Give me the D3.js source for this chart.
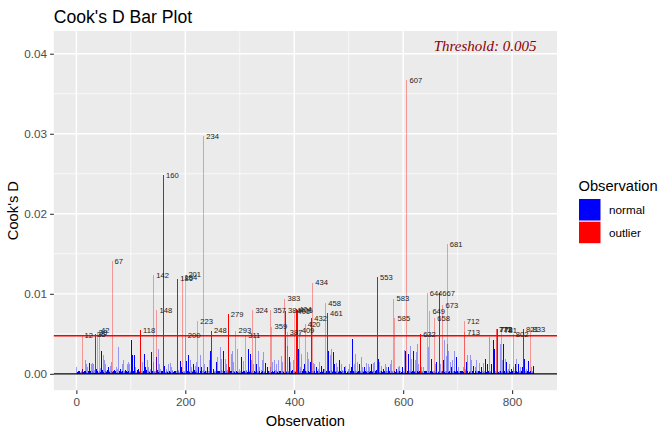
<!doctype html>
<html lang="en">
<head>
<meta charset="utf-8">
<title>Cook's D Bar Plot</title>
<script src="https://d3js.org/d3.v7.min.js"></script>
<style>
  body { margin: 0; background: #ffffff; }
  svg { display: block; font-family: "Liberation Sans", Arial, sans-serif; }
</style>
</head>
<body>
<svg id="chart" width="672" height="432"></svg>
<script>
// Cook's D of every observation, in units of 0.0001.
// Outlier positions hold 0 here, their values are in outlierD below.
var cooksD = [
  8,2,1,3,1,4,2,1,3,2,6,0,2,1,4,17,3,12,2,1,
  8,3,1,13,2,4,12,1,14,3,2,12,1,5,0,2,6,0,3,2,
  1,0,4,2,7,29,3,5,23,2,1,17,4,12,2,3,5,1,8,3,
  2,10,1,4,15,2,0,3,1,5,2,3,8,1,2,6,1,34,3,2,
  6,3,2,12,4,1,17,3,2,5,1,4,12,2,15,3,1,12,4,2,
  42,3,23,1,4,2,23,3,8,1,2,5,1,6,3,2,4,0,1,3,
  2,15,4,1,25,3,9,2,5,17,1,3,8,2,4,1,6,27,2,3,
  15,0,2,4,1,3,21,0,5,31,2,12,3,6,1,4,2,3,1,0,
  3,10,2,1,4,6,2,3,1,12,4,13,2,1,8,3,5,2,1,4,
  2,3,4,1,2,0,3,5,1,2,16,3,8,0,2,4,1,3,2,0,
  0,16,2,4,1,23,3,2,17,1,4,8,2,3,12,1,5,10,2,3,
  15,2,0,9,3,1,23,4,2,8,1,3,5,0,2,12,3,4,1,2,
  8,3,1,17,4,29,2,0,3,1,5,6,2,4,1,3,15,2,4,21,
  3,1,4,33,2,5,19,1,3,29,2,4,19,1,3,12,2,5,0,3,
  8,2,4,25,3,29,1,4,15,2,3,1,0,4,31,2,3,1,6,2,
  4,1,21,3,2,16,4,1,3,2,0,5,4,2,1,31,3,2,4,25,
  2,17,3,0,1,12,4,46,2,3,12,1,4,29,2,3,8,1,5,2,
  17,3,1,27,4,2,13,3,1,5,8,2,4,1,3,8,0,2,0,4,
  15,2,17,3,5,1,4,12,2,3,1,17,4,2,3,22,1,4,15,2,
  3,1,0,0,3,2,0,35,3,2,21,4,1,15,3,2,5,17,1,3,
  0,2,4,0,1,0,3,31,0,2,8,4,1,25,3,2,6,1,12,0,
  3,2,4,27,1,3,19,2,4,15,1,0,3,0,2,13,4,12,1,3,
  8,2,4,6,1,3,15,2,1,10,4,2,3,6,1,6,2,0,3,1,
  0,4,29,2,3,23,1,5,31,2,4,27,1,12,3,2,13,4,1,8,
  2,3,17,1,4,12,2,3,5,1,4,8,2,3,10,1,4,2,6,3,
  1,12,4,2,8,3,44,1,4,12,2,3,25,1,4,2,15,3,1,12,
  2,4,21,1,3,8,2,4,8,1,3,13,2,4,1,12,3,2,8,4,
  1,12,3,2,13,4,1,15,3,2,5,1,0,3,19,2,15,4,1,3,
  10,2,4,6,1,3,12,2,4,8,1,3,8,2,4,12,1,3,17,2,
  4,1,0,3,0,2,4,6,1,3,8,2,4,10,1,3,2,4,8,1,
  3,30,2,29,4,1,0,3,2,25,4,1,35,3,2,19,4,1,29,3,
  2,17,4,1,27,3,37,2,12,4,1,0,3,8,2,4,8,1,3,2,
  4,2,3,0,1,33,4,2,0,3,1,19,4,2,3,1,4,0,2,12,
  15,3,1,4,2,3,0,1,12,4,2,3,0,17,42,2,4,1,22,3,
  0,37,2,29,4,15,1,3,8,2,17,4,1,3,29,2,4,21,1,3,
  8,2,4,1,3,2,4,1,3,8,2,0,0,6,3,15,2,4,23,1,
  3,2,24,4,1,17,3,2,10,4,1,8,3,2,17,4,1,3,2,4,
  13,2,3,8,1,4,2,13,3,1,19,4,2,3,12,1,4,2,46,3,
  2,12,4,1,3,42,2,31,4,1,0,0,0,3,2,4,1,37,3,2,
  0,17,3,37,2,4,19,1,3,15,2,4,6,1,3,12,2,4,6,1,
  3,0,8,4,1,12,4,3,19,2,4,12,1,3,2,8,4,1,8,0,
  0,4,19,1,3,6,2,4,1,16,3,2,0,4,8,1,3,2,10,4
];

// labelled observations above the threshold
var outlierObs = [12, 35, 38, 42, 67, 118, 142, 148, 160, 186, 194, 200, 201, 223, 234, 248,
  279, 293, 311, 324, 357, 359, 383, 384, 387, 401, 404, 406, 409, 420, 432, 434, 458, 461,
  553, 583, 585, 607, 632, 644, 649, 658, 667, 673, 681, 712, 713, 771, 772, 773, 781,
  802, 821, 833];
var outlierD = [0.0048, 0.0050, 0.0052, 0.0054, 0.0141, 0.0055, 0.0123, 0.0080, 0.0248, 0.0119, 0.0121, 0.0048, 0.0124, 0.0066, 0.0297, 0.0054,
  0.0075, 0.0054, 0.0048, 0.0080, 0.0080, 0.0059, 0.0094, 0.0079, 0.0052, 0.0078, 0.0081, 0.0080, 0.0055, 0.0062, 0.0070, 0.0114, 0.0088, 0.0076,
  0.0121, 0.0094, 0.0070, 0.0367, 0.0050, 0.0101, 0.0078, 0.0070, 0.0101, 0.0086, 0.0162, 0.0066, 0.0052, 0.0056, 0.0056, 0.0056, 0.0055,
  0.0050, 0.0056, 0.0056];

var legendLabels = ["normal", "outlier"];
var legendColors = ["blue", "red"];
var xTicks = [0, 200, 400, 600, 800];
var yTicks = [0, 0.01, 0.02, 0.03, 0.04];
var yMax = 0.0408;

var n = cooksD.length;
var threshold = 4 / n;

var data = cooksD.map(function(v, i) { return { obs: i + 1, cd: v / 10000, txt: null }; });
outlierObs.forEach(function(o, i) {
  data[o - 1].cd = outlierD[i];
  data[o - 1].txt = String(o);
});
data.forEach(function(d) { d.color = d.cd > threshold ? "outlier" : "normal"; });

var panel = { left: 53.8, right: 557, top: 31, bottom: 390.2 };

// ggplot style 5% expansion
var xLo = 0.55, xHi = n + 0.45, xPad = (xHi - xLo) * 0.05;
var x = d3.scaleLinear().domain([xLo - xPad, xHi + xPad]).range([panel.left, panel.right]);
var y = d3.scaleLinear().domain([-yMax * 0.05, yMax * 1.05]).range([panel.bottom, panel.top]);
var fill = d3.scaleOrdinal().domain(legendLabels).range(legendColors);

var svg = d3.select("#chart");

svg.append("rect").attr("x", panel.left).attr("y", panel.top)
  .attr("width", panel.right - panel.left).attr("height", panel.bottom - panel.top)
  .attr("fill", "#EBEBEB");

var grid = svg.append("g");
[100, 300, 500, 700].forEach(function(v) {
  grid.append("line").attr("x1", x(v)).attr("x2", x(v)).attr("y1", panel.top).attr("y2", panel.bottom)
    .attr("stroke", "#fff").attr("stroke-width", 0.7);
});
[0.005, 0.015, 0.025, 0.035].forEach(function(v) {
  grid.append("line").attr("x1", panel.left).attr("x2", panel.right).attr("y1", y(v)).attr("y2", y(v))
    .attr("stroke", "#fff").attr("stroke-width", 0.7);
});
xTicks.forEach(function(v) {
  grid.append("line").attr("x1", x(v)).attr("x2", x(v)).attr("y1", panel.top).attr("y2", panel.bottom)
    .attr("stroke", "#fff").attr("stroke-width", 1.4);
});
yTicks.forEach(function(v) {
  grid.append("line").attr("x1", panel.left).attr("x2", panel.right).attr("y1", y(v)).attr("y2", y(v))
    .attr("stroke", "#fff").attr("stroke-width", 1.4);
});

// thin bars: full colour when the bar covers the pixel centre, faint otherwise
svg.append("g").selectAll("rect")
  .data(data)
  .enter().append("rect")
  .attr("x", function(d) { return Math.floor(x(d.obs)); })
  .attr("width", 1)
  .attr("y", function(d) { return y(d.cd); })
  .attr("height", function(d) { return y(0) - y(d.cd); })
  .attr("fill", function(d) { return fill(d.color); })
  .attr("fill-opacity", function(d) {
    var f = x(d.obs) - Math.floor(x(d.obs));
    return Math.abs(f - 0.5) < 0.18 ? 1 : 0.36;
  })
  .attr("shape-rendering", "crispEdges");

svg.append("line").attr("x1", panel.left).attr("x2", panel.right)
  .attr("y1", y(0)).attr("y2", y(0)).attr("stroke", "#000").attr("stroke-width", 1.4);
svg.append("line").attr("x1", panel.left).attr("x2", panel.right)
  .attr("y1", y(threshold)).attr("y2", y(threshold)).attr("stroke", "red").attr("stroke-width", 1.4);

// observation labels
svg.append("g").selectAll("text")
  .data(data.filter(function(d) { return d.txt; }))
  .enter().append("text")
  .attr("x", function(d) { return x(d.obs); })
  .attr("y", function(d) { return y(d.cd); })
  .attr("dy", "0.35em")
  .attr("font-size", 7.6)
  .attr("fill", "#1a1a1a")
  .text(function(d) { return d.txt; })
  .each(function() {
    var t = d3.select(this);
    t.attr("x", +t.attr("x") + 0.2 * this.getComputedTextLength());
  });

var thr = svg.append("text")
  .attr("y", 50.5)
  .attr("font-family", "'Liberation Serif', 'Times New Roman', serif")
  .attr("font-style", "italic")
  .attr("font-size", 15)
  .attr("fill", "darkred")
  .text("Threshold: " + d3.format(".3f")(threshold).replace(/0+$/, ""));
thr.attr("x", panel.right - 1.2 * thr.node().getComputedTextLength());

// axes
var xAxis = svg.append("g").attr("transform", "translate(0," + panel.bottom + ")")
  .call(d3.axisBottom(x).tickValues(xTicks).tickSize(3.7).tickPadding(4).tickFormat(d3.format("d")));
var yAxis = svg.append("g").attr("transform", "translate(" + panel.left + ",0)")
  .call(d3.axisLeft(y).tickValues(yTicks).tickSize(3.7).tickPadding(3).tickFormat(d3.format(".2f")));
[xAxis, yAxis].forEach(function(a) {
  a.select(".domain").remove();
  a.selectAll(".tick line").attr("stroke", "#333333").attr("stroke-width", 1.1);
  a.selectAll(".tick text").attr("fill", "#4D4D4D").attr("font-size", 11.7)
    .attr("font-family", "'Liberation Sans', Arial, sans-serif");
});

svg.append("text").attr("x", (panel.left + panel.right) / 2).attr("y", 426)
  .attr("text-anchor", "middle").attr("font-size", 14.7).attr("fill", "#000")
  .text("Observation");
svg.append("text").attr("transform", "translate(18," + (panel.top + panel.bottom) / 2 + ") rotate(-90)")
  .attr("text-anchor", "middle").attr("font-size", 14.7).attr("fill", "#000")
  .text("Cook's D");
svg.append("text").attr("x", panel.left).attr("y", 22.5)
  .attr("font-size", 17.6).attr("fill", "#000")
  .text("Cook's D Bar Plot");

// legend
var legend = svg.append("g");
legend.append("text").attr("x", 578.5).attr("y", 190.5).attr("font-size", 14.7).attr("fill", "#000")
  .text("Observation");
legendLabels.forEach(function(l, i) {
  legend.append("rect").attr("x", 579).attr("y", 199 + i * 22.7)
    .attr("width", 21.5).attr("height", 21.5).attr("fill", fill(l));
  legend.append("text").attr("x", 609).attr("y", 214.3 + i * 22.7)
    .attr("font-size", 11.7).attr("fill", "#000").text(l);
});
</script>
</body>
</html>
